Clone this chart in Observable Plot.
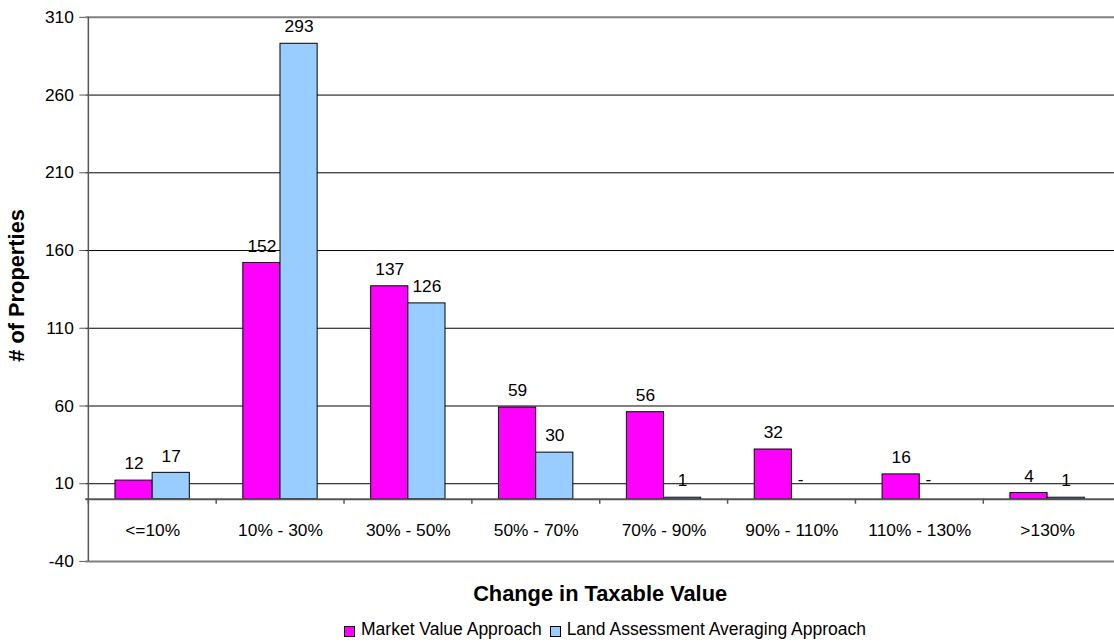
<!DOCTYPE html>
<html>
<head>
<meta charset="utf-8">
<script src="https://cdn.jsdelivr.net/npm/d3@7"></script>
<script src="https://cdn.jsdelivr.net/npm/@observablehq/plot@0.6"></script>
<style>
  html, body { margin: 0; padding: 0; overflow: hidden; background: #fff; }
  body { font-family: "Liberation Sans", Arial, sans-serif; }
  #chart svg { display: block; }
  .legend {
    width: 1038px; padding-left: 86px; padding-top: 10px; height: 25px;
    display: flex; justify-content: center; align-items: center;
    font-size: 17.5px; color: #000; white-space: nowrap;
  }
  .legend .item { display: flex; align-items: center; }
  .legend .item + .item { margin-left: 8px; }
  .legend .sw {
    width: 9px; height: 9px; border: 1px solid #000;
    margin-right: 6px; margin-top: 5px; box-sizing: content-box;
  }
</style>
</head>
<body>
<div id="chart"></div>
<script>
// Number of properties by change in taxable value, for two approaches
const categories = ["<=10%", "10% - 30%", "30% - 50%", "50% - 70%", "70% - 90%", "90% - 110%", "110% - 130%", ">130%"];
const marketValue = [12, 152, 137, 59, 56, 32, 16, 4];
const landAveraging = [17, 293, 126, 30, 1, 0, 0, 1];
const seriesNames = ["Market Value Approach", "Land Assessment Averaging Approach"];
const seriesColors = ["#FF00FF", "#99CCFF"];
const yTicks = [-40, 10, 60, 110, 160, 210, 260, 310];

const rows = categories.flatMap((category, i) => [
  {category, series: seriesNames[0], value: marketValue[i]},
  {category, series: seriesNames[1], value: landAveraging[i]}
]);
const market = rows.filter(d => d.series === seriesNames[0]);
const land = rows.filter(d => d.series === seriesNames[1]);

// Layout
const width = 1124, height = 612;
const marginLeft = 86, marginRight = 0, marginTop = 17, marginBottom = 46;
const paddingInner = 0.422;
const step = (width - marginLeft - marginRight) / categories.length;
const bandwidth = step * (1 - paddingInner);
const half = bandwidth / 2;
const font = "'Liberation Sans', Arial, sans-serif";
const fs = 17.5;

const chart = Plot.plot({
  width, height, marginLeft, marginRight, marginTop, marginBottom,
  style: {fontFamily: font, fontSize: `${fs}px`, color: "#000", background: "#fff"},
  x: {domain: categories, paddingInner, paddingOuter: paddingInner / 2, axis: null},
  y: {domain: [yTicks[0], yTicks[yTicks.length - 1]], axis: null},
  marks: [
    // horizontal gridlines
    Plot.ruleY(yTicks.slice(1, -1), {stroke: "#000", strokeWidth: 1}),
    // plot area top and bottom edges
    Plot.ruleY([yTicks[0], yTicks[yTicks.length - 1]], {stroke: "#808080", strokeWidth: 2}),
    // bars
    Plot.barY(market.filter(d => d.value !== 0), {
      x: "category", y: "value", fill: seriesColors[0], stroke: "#000", strokeWidth: 1, insetRight: half
    }),
    Plot.barY(land.filter(d => d.value !== 0), {
      x: "category", y: "value", fill: seriesColors[1], stroke: "#000", strokeWidth: 1, insetLeft: half
    }),
    // category axis line at zero with boundary ticks
    Plot.ruleY([0], {stroke: "#555", strokeWidth: 2}),
    Plot.ruleX(categories, {x: d => d, y1: 0, y2: 0, insetBottom: -5, dx: -step / 2, stroke: "#555", strokeWidth: 1.5}),
    // value axis line and ticks
    Plot.ruleX([categories[0]], {x: d => d, dx: -step / 2, stroke: "#555", strokeWidth: 1.5}),
    Plot.axisY({ticks: yTicks, tickSize: 6, tickPadding: 6, fontSize: fs, stroke: "#555", label: null, tickFormat: d => String(d)}),
    // value labels (zero values shown as a dash)
    Plot.text(market, {x: "category", y: "value", text: d => String(d.value), dx: -half / 2, dy: -17, fontSize: fs, fill: "#000"}),
    Plot.text(land.filter(d => d.value !== 0), {x: "category", y: "value", text: d => String(d.value), dx: half / 2, dy: -17, fontSize: fs, fill: "#000"}),
    Plot.text(land.filter(d => d.value === 0), {x: "category", y: "value", text: () => "-", dx: half / 2 - 10, dy: -20, fontSize: fs, fill: "#000"}),
    // category labels
    Plot.text(categories, {x: d => d, y: 0, dy: 31, fontSize: fs, fill: "#000"}),
    // axis titles
    Plot.text(["Change in Taxable Value"], {frameAnchor: "bottom", lineAnchor: "middle", dy: 33, fontSize: 22, fontWeight: "bold", fill: "#000"}),
    Plot.text(["# of Properties"], {frameAnchor: "left", textAnchor: "middle", lineAnchor: "middle", dx: -69, dy: -4, rotate: -90, fontSize: 22, fontWeight: "bold", fill: "#000"})
  ]
});
document.getElementById("chart").append(chart);

// legend
const legend = document.createElement("div");
legend.className = "legend";
seriesNames.forEach((name, i) => {
  const item = document.createElement("div");
  item.className = "item";
  const sw = document.createElement("span");
  sw.className = "sw";
  sw.style.background = seriesColors[i];
  const label = document.createElement("span");
  label.textContent = name;
  item.append(sw, label);
  legend.append(item);
});
document.body.append(legend);
</script>
</body>
</html>
